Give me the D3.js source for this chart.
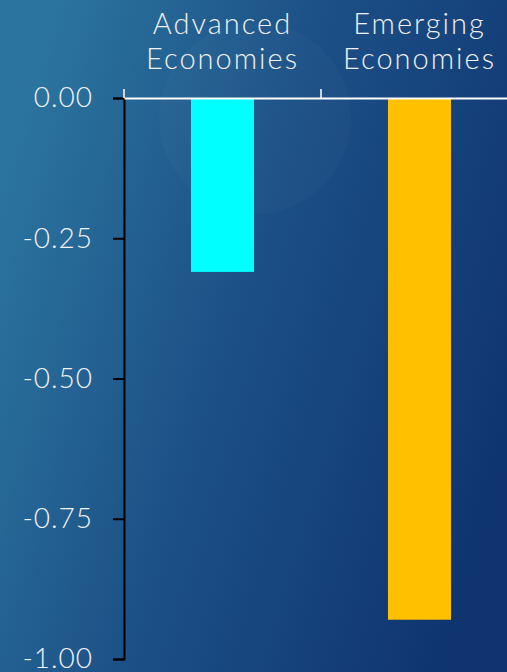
<!DOCTYPE html>
<html>
<head>
<meta charset="utf-8">
<script src="https://cdn.jsdelivr.net/npm/d3@7"></script>
<style>
  html, body { margin: 0; padding: 0; background: #1a4a80; }
  svg { display: block; }
</style>
</head>
<body>
<script>
// Change in growth by economy group
const categories = ["Advanced Economies", "Emerging Economies"];
const categoryLines = [["Advanced", "Economies"], ["Emerging", "Economies"]];
const values = [-0.31, -0.93];
const barColors = ["#00FFFF", "#FFC000"];
const yTicks = [0, -0.25, -0.5, -0.75, -1.0];

const W = 507, H = 672;
const svg = d3.select("body").append("svg").attr("width", W).attr("height", H);

// background gradient
const defs = svg.append("defs");
const bg = defs.append("linearGradient").attr("id", "bg")
  .attr("x1", "0%").attr("y1", "30%").attr("x2", "100%").attr("y2", "70%");
bg.append("stop").attr("offset", "0%").attr("stop-color", "#2b749f");
bg.append("stop").attr("offset", "45%").attr("stop-color", "#1c5086");
bg.append("stop").attr("offset", "100%").attr("stop-color", "#0f3470");
svg.append("rect").attr("width", W).attr("height", H).attr("fill", "url(#bg)");

// faint decorative disc behind the plot
svg.append("circle").attr("cx", 255).attr("cy", 118).attr("r", 96)
  .attr("fill", "#ffffff").attr("opacity", 0.018);

const x = d3.scaleBand().domain(categories).range([124, 518]).paddingInner(0).paddingOuter(0);
const y = d3.scaleLinear().domain([-1, 0]).range([659, 98]);
const barW = x.bandwidth() * 0.32;

// bars
svg.selectAll("rect.bar").data(categories).join("rect")
  .attr("class", "bar")
  .attr("x", (d) => x(d) + x.bandwidth() / 2 - barW / 2)
  .attr("width", barW)
  .attr("y", y(0))
  .attr("height", (d, i) => y(values[i]) - y(0))
  .attr("fill", (d, i) => barColors[i]);

// y axis
const yAxis = svg.append("g").attr("transform", "translate(124,0)")
  .call(d3.axisLeft(y).tickValues(yTicks).tickFormat(d3.format(".2f")).tickSize(11).tickPadding(20));
yAxis.select(".domain").attr("stroke", "#000").attr("stroke-width", 2);
yAxis.selectAll(".tick line").attr("stroke", "#000").attr("stroke-width", 2);
yAxis.selectAll(".tick text")
  .attr("fill", "#f2f2f2")
  .style("font-family", "Lato, 'DejaVu Sans', sans-serif")
  .style("font-weight", 300)
  .style("font-size", "28px")
  .style("letter-spacing", "1px")
  .text((d) => d3.format(".2f")(d).replace("−", "-"));

// x axis along the top (zero line)
const xAxis = svg.append("g").attr("transform", `translate(0,${y(0)})`)
  .call(d3.axisTop(x).tickSize(0).tickFormat(""));
xAxis.select(".domain").attr("stroke", "#ffffff").attr("stroke-width", 2);
xAxis.selectAll(".tick").remove();
const bounds = [124, 124 + x.step(), 124 + 2 * x.step()];
xAxis.selectAll("line.sep").data(bounds).join("line")
  .attr("class", "sep")
  .attr("x1", (d) => d).attr("x2", (d) => d)
  .attr("y1", 0).attr("y2", -9)
  .attr("stroke", "#ffffff").attr("stroke-width", 1.5);

// category labels
const labels = svg.append("g");
categories.forEach((c, i) => {
  const t = labels.append("text")
    .attr("x", x(c) + x.bandwidth() / 2)
    .attr("text-anchor", "middle")
    .attr("fill", "#f0f0f0")
    .style("font-family", "Lato, 'DejaVu Sans', sans-serif")
    .style("font-weight", 300)
    .style("font-size", "29px")
    .style("letter-spacing", "2px");
  categoryLines[i].forEach((line, j) => {
    t.append("tspan").attr("x", x(c) + x.bandwidth() / 2).attr("y", 34 + j * 35).text(line);
  });
});
</script>
</body>
</html>
